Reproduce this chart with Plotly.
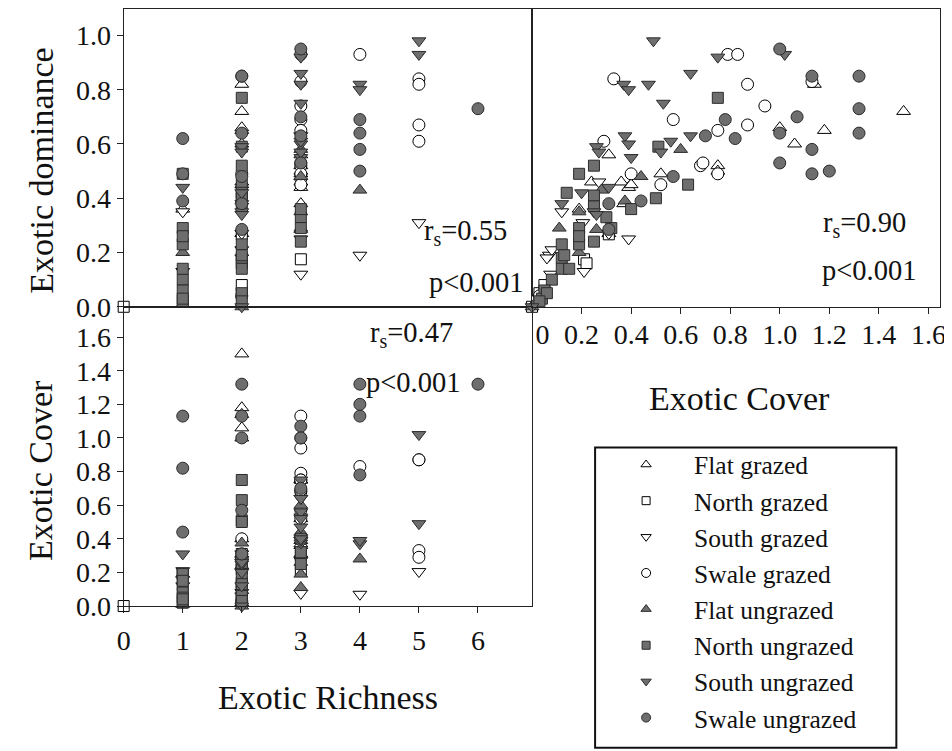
import plotly.graph_objects as go

# ---------------- data (one entry per plot: richness, cover, dominance) ----------------
fg_rich = [2, 2, 2, 2, 3, 3, 3, 3, 3, 3, 2, 2, 1, 2, 3, 2, 2]
fg_cover = [1.50, 1.18, 1.06, 1.00, 0.75, 0.75, 0.31, 0.39, 0.52, 0.36, 0.24, 0.31, 0.19, 0.02, 0.37, 0.40, 1.14]
fg_dom = [0.72, 0.65, 0.60, 0.66, 0.52, 0.50, 0.56, 0.44, 0.49, 0.46, 0.46, 0.27, 0.36, 0.01, 0.38, 0.45, 0.82]

ng_rich = [0, 3, 2, 2, 2, 1, 2]
ng_cover = [0.00, 0.21, 0.31, 0.03, 0.05, 0.02, 0.22]
ng_dom = [0.00, 0.175, 0.267, 0.05, 0.08, 0.02, 0.16]

sg_rich = [1, 3, 4, 5, 2, 3, 2, 3, 1, 2]
sg_cover = [0.21, 0.075, 0.07, 0.205, 0.08, 0.39, 0.31, 0.27, 0.12, 0.06]
sg_dom = [0.13, 0.12, 0.19, 0.31, 0.21, 0.25, 0.27, 0.46, 0.35, 0.18]

swg_rich = [3, 4, 5, 5, 3, 3, 5, 3, 5, 3, 3, 2, 3, 3, 3, 2]
swg_cover = [0.79, 0.83, 0.33, 0.87, 0.94, 0.57, 0.87, 0.75, 0.29, 0.68, 0.69, 0.40, 0.52, 0.75, 1.13, 0.03]
swg_dom = [0.93, 0.93, 0.84, 0.82, 0.74, 0.69, 0.67, 0.65, 0.61, 0.52, 0.53, 0.49, 0.45, 0.49, 0.83, 0.04]

fu_rich = [3, 3, 2, 3, 3, 3, 1, 2, 1, 4]
fu_cover = [0.44, 0.60, 0.375, 0.11, 0.19, 0.26, 0.19, 0.00, 0.01, 0.28]
fu_dom = [0.48, 0.58, 0.39, 0.29, 0.35, 0.285, 0.20, 0.00, 0.01, 0.43]

nu_rich = [2, 2, 2, 2, 2, 1, 2, 2, 2, 3, 3, 3, 1, 2, 1, 2, 2, 1, 1, 1, 1, 2, 2, 2, 3, 1]
nu_cover = [0.75, 0.51, 0.63, 0.50, 0.25, 0.19, 0.14, 0.25, 0.25, 0.30, 0.32, 0.25, 0.19, 0.19, 0.12, 0.12, 0.12,
            0.08, 0.05, 0.04, 0.19, 0.13, 0.06, 0.03, 0.40, 0.15]
nu_dom = [0.77, 0.59, 0.45, 0.40, 0.52, 0.49, 0.42, 0.41, 0.37, 0.33, 0.29, 0.24, 0.29, 0.23, 0.23, 0.18, 0.14,
          0.10, 0.06, 0.03, 0.26, 0.19, 0.05, 0.02, 0.36, 0.14]

su_rich = [5, 3, 5, 3, 4, 4, 3, 3, 3, 3, 3, 2, 2, 3, 3, 3, 2, 2, 2, 1, 2, 2]
su_cover = [0.49, 0.75, 1.02, 0.64, 0.37, 0.39, 0.47, 0.53, 0.375, 0.39, 0.40, 0.26, 0.27, 0.56, 0.52, 0.64,
            0.20, 0.12, 0.25, 0.31, 0.26, 0.00]
su_dom = [0.98, 0.92, 0.93, 0.86, 0.82, 0.80, 0.82, 0.75, 0.63, 0.60, 0.55, 0.59, 0.57, 0.61, 0.57, 0.63,
          0.42, 0.38, 0.35, 0.44, 0.34, 0.00]

swu_rich = [3, 2, 2, 6, 4, 3, 4, 1, 3, 2, 4, 3, 1, 4, 2, 1, 2, 2]
swu_cover = [1.00, 1.32, 1.13, 1.32, 1.32, 1.07, 0.78, 0.82, 0.70, 1.00, 1.13, 1.00, 1.13, 1.20, 0.57, 0.44, 0.31, 0.31]
swu_dom = [0.95, 0.85, 0.85, 0.73, 0.64, 0.70, 0.69, 0.62, 0.63, 0.64, 0.58, 0.53, 0.49, 0.50, 0.48, 0.39, 0.38, 0.285]

group_names = ["Flat grazed", "North grazed", "South grazed", "Swale grazed",
               "Flat ungrazed", "North ungrazed", "South ungrazed", "Swale ungrazed"]

dom_ticks = [0.0, 0.2, 0.4, 0.6, 0.8, 1.0]
cover_ticks_left = [0.0, 0.2, 0.4, 0.6, 0.8, 1.0, 1.2, 1.4, 1.6]
cover_ticks_bottom = [0.0, 0.2, 0.4, 0.6, 0.8, 1.0, 1.2, 1.4, 1.6]
rich_ticks = [0, 1, 2, 3, 4, 5, 6]

# ---------------- layout helpers (target pixel positions -> paper fractions) ----------------
OX, SX = 27.4, 0.976    # observed horizontal placement of the figure inside the screenshot
OY, SY = 7.5, 0.98      # observed vertical placement
W, H = 950, 759
FONT = "Liberation Serif"
GRAY = "#6e6e6e"
EDGE_DARK = "#2b2b2b"


def px(x):
    return min(1.0, max(0.0, (x - OX) / SX / W))


def py(y):
    return min(1.0, max(0.0, 1 - (y - OY) / SY / H))


series = [
    (group_names[0], "triangle-up", False, fg_rich, fg_cover, fg_dom),
    (group_names[1], "square", False, ng_rich, ng_cover, ng_dom),
    (group_names[2], "triangle-down", False, sg_rich, sg_cover, sg_dom),
    (group_names[3], "circle", False, swg_rich, swg_cover, swg_dom),
    (group_names[4], "triangle-up", True, fu_rich, fu_cover, fu_dom),
    (group_names[5], "square", True, nu_rich, nu_cover, nu_dom),
    (group_names[6], "triangle-down", True, su_rich, su_cover, su_dom),
    (group_names[7], "circle", True, swu_rich, swu_cover, swu_dom),
]


def marker_style(sym, filled, size):
    return dict(symbol=sym, size=size,
                color=GRAY if filled else "white",
                line=dict(color=EDGE_DARK if filled else "black", width=1))


fig = go.Figure()
for name, sym, filled, rich, cover, dom in series:
    size = 11 if sym == "square" else 12
    marker = marker_style(sym, filled, size)
    panels = [("x", "y", rich, dom), ("x2", "y2", cover, dom), ("x3", "y3", rich, cover)]
    for xa, ya, xs, ys in panels:
        fig.add_trace(go.Scatter(x=xs, y=ys, xaxis=xa, yaxis=ya, mode="markers",
                                 name=name, legendgroup=name, showlegend=False,
                                 marker=marker, cliponaxis=False))
# legend entries (smaller symbols, as in the reference key)
for name, sym, filled, rich, cover, dom in series:
    fig.add_trace(go.Scatter(x=[None], y=[None], xaxis="x2", yaxis="y2", mode="markers",
                             name=name, legendgroup=name, showlegend=True,
                             marker=marker_style(sym, filled, 8 if sym == "square" else 9)))

ax_common = dict(showline=True, linecolor="#222222", linewidth=1.2, mirror=True,
                 showgrid=False, zeroline=False, ticks="outside", ticklen=6,
                 tickcolor="#222222", tickwidth=1,
                 tickfont=dict(family=FONT, size=28, color="#111111"))

TOP = 8
RIGHT = 942
xl = [px(126), px(534)]
xr = [px(534), px(RIGHT)]
yt = [py(306), py(TOP)]
yb = [py(606), py(306)]
dom_top = (306 - TOP) / 272.0
rich_right = (534 - 126) / 59.0
cover_right = (RIGHT - 534) / 247.5
cover_top = (606 - 306) / 168.5

fig.update_layout(
    width=W, height=H, margin=dict(l=0, r=0, t=0, b=0),
    paper_bgcolor="white", plot_bgcolor="white",
    font=dict(family=FONT, color="#111111"),
    xaxis=dict(ax_common, domain=xl, anchor="y", range=[0, rich_right], showticklabels=False, ticks=""),
    yaxis=dict(ax_common, domain=yt, anchor="x", range=[0, dom_top], tickvals=dom_ticks,
               ticktext=[f"{v:.1f}" for v in dom_ticks]),
    xaxis2=dict(ax_common, domain=xr, anchor="y2", range=[0, cover_right], tickvals=cover_ticks_bottom,
                ticktext=["\u00a0\u00a0\u00a00"] + [f"{v:.1f}" for v in cover_ticks_bottom[1:]],
                ticklabelstandoff=-3),
    yaxis2=dict(ax_common, domain=yt, anchor="x2", range=[0, dom_top], showticklabels=False, ticks=""),
    xaxis3=dict(ax_common, domain=xl, anchor="y3", range=[0, rich_right], tickvals=rich_ticks,
                ticktext=[str(v) for v in rich_ticks], ticklabelstandoff=3),
    yaxis3=dict(ax_common, domain=yb, anchor="x3", range=[0, cover_top], tickvals=cover_ticks_left,
                ticktext=[f"{v:.1f}" for v in cover_ticks_left]),
    showlegend=True,
    legend=dict(x=px(600), y=py(441), xanchor="left", yanchor="top",
                font=dict(family=FONT, size=25.5, color="#111111"),
                bgcolor="rgba(0,0,0,0)", borderwidth=0, itemwidth=86,
                tracegroupgap=0, traceorder="normal"),
    shapes=[dict(type="rect", xref="paper", yref="paper", x0=px(597), x1=px(898),
                 y0=py(748), y1=py(447), line=dict(color="#111111", width=2))],
)

title_font = dict(family=FONT, size=34, color="#111111")
ann_font = dict(family=FONT, size=28.5, color="#111111")
annotations = [
    dict(text="Exotic dominance", x=px(43), y=py(170), textangle=-90, font=title_font),
    dict(text="Exotic Cover", x=px(43), y=py(470), textangle=-90, font=title_font),
    dict(text="Exotic Richness", x=px(330), y=py(698), font=title_font),
    dict(text="Exotic Cover", x=px(741), y=py(398), font=title_font),
    dict(text="r<sub>s</sub>=0.55", x=px(468), y=py(232), font=ann_font),
    dict(text="p<0.001", x=px(478), y=py(282), font=ann_font),
    dict(text="r<sub>s</sub>=0.90", x=px(866), y=py(224), font=ann_font),
    dict(text="p<0.001", x=px(871), y=py(270), font=ann_font),
    dict(text="r<sub>s</sub>=0.47", x=px(414), y=py(334), font=ann_font),
    dict(text="p<0.001", x=px(415), y=py(382), font=ann_font),
]
for a in annotations:
    a.update(xref="paper", yref="paper", showarrow=False, xanchor="center", yanchor="middle")
fig.update_layout(annotations=annotations)

fig.write_html("out.html")
